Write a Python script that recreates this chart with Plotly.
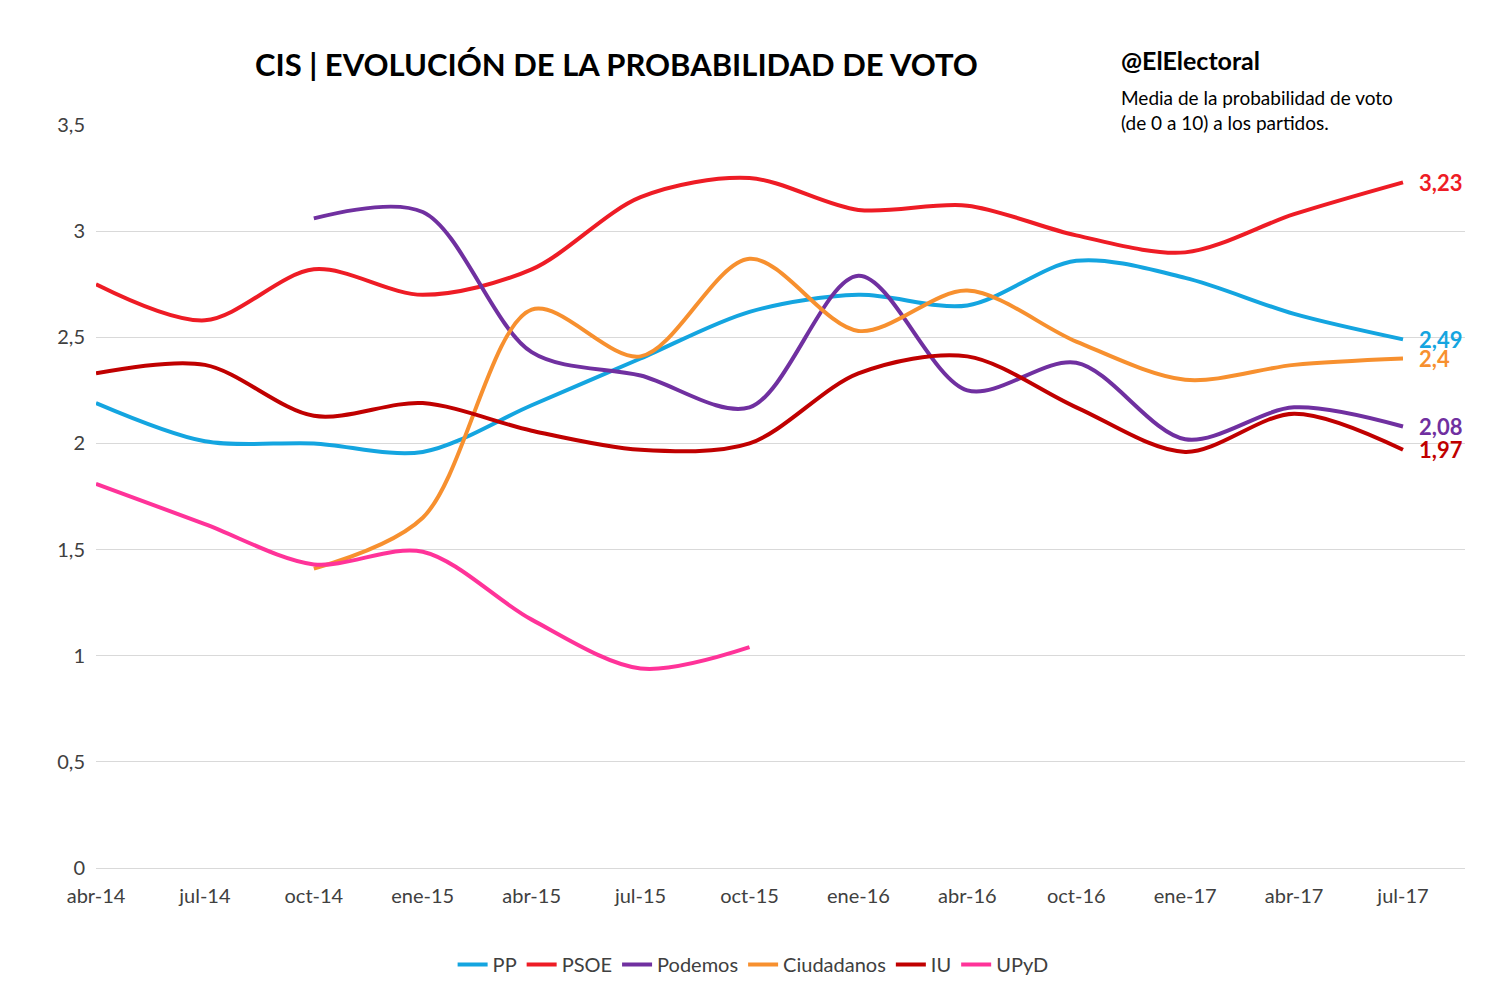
import plotly.graph_objects as go

meses = ["abr-14", "jul-14", "oct-14", "ene-15", "abr-15", "jul-15", "oct-15",
         "ene-16", "abr-16", "oct-16", "ene-17", "abr-17", "jul-17"]

pp = [2.19, 2.01, 2.00, 1.96, 2.18, 2.40, 2.62, 2.70, 2.65, 2.86, 2.78, 2.61, 2.49]
psoe = [2.75, 2.58, 2.82, 2.70, 2.82, 3.16, 3.25, 3.10, 3.12, 2.98, 2.90, 3.08, 3.23]
podemos = [None, None, 3.06, 3.09, 2.43, 2.32, 2.17, 2.79, 2.25, 2.38, 2.02, 2.17, 2.08]
ciudadanos = [None, None, 1.41, 1.65, 2.63, 2.41, 2.87, 2.53, 2.72, 2.48, 2.30, 2.37, 2.40]
iu = [2.33, 2.37, 2.13, 2.19, 2.06, 1.97, 2.00, 2.33, 2.41, 2.17, 1.96, 2.14, 1.97]
upyd = [1.81, 1.62, 1.43, 1.49, 1.17, 0.94, 1.04, None, None, None, None, None, None]

series = [
    ("PP", pp, "#14a5e0", "2,49"),
    ("PSOE", psoe, "#ee1c25", "3,23"),
    ("Podemos", podemos, "#7030a0", "2,08"),
    ("Ciudadanos", ciudadanos, "#f7902f", "2,4"),
    ("IU", iu, "#c00000", "1,97"),
    ("UPyD", upyd, "#ff3399", None),
]

fig = go.Figure()
for nombre, vals, color, etiqueta in series:
    fig.add_trace(go.Scatter(x=meses, y=vals, name=nombre, mode="lines",
                             line=dict(color=color, width=4, shape="spline", smoothing=0.9)))
    if etiqueta:
        fig.add_annotation(x=meses[-1], y=vals[-1], text="<b>" + etiqueta + "</b>",
                           showarrow=False, xanchor="left", xshift=14,
                           font=dict(color=color, size=22))

fig.add_annotation(xref="paper", yref="paper", x=0.38, y=1.11, showarrow=False,
                   text="<b>CIS | EVOLUCIÓN DE LA PROBABILIDAD DE VOTO</b>",
                   font=dict(size=31, color="black"))
fig.add_annotation(xref="paper", yref="paper", x=0.747, y=1.11, showarrow=False, xanchor="left",
                   text="<b>@ElElectoral</b>", font=dict(size=25, color="black"))
fig.add_annotation(xref="paper", yref="paper", x=0.747, y=1.02, showarrow=False, xanchor="left",
                   align="left", yanchor="middle",
                   text="Media de la probabilidad de voto<br>(de 0 a 10) a los partidos.",
                   font=dict(size=19, color="black"))

fig.update_layout(
    width=1500, height=1002, plot_bgcolor="white", paper_bgcolor="white",
    font=dict(family="Lato, Open Sans, sans-serif", size=20, color="#404040"),
    margin=dict(l=88, r=43, t=117, b=142),
    showlegend=True, separators=", ",
    legend=dict(orientation="h", x=0.48, xanchor="center", y=-0.13, yanchor="middle",
                font=dict(size=20, color="#404040")),
)
fig.update_xaxes(type="category", showgrid=False, showline=True, linecolor="#d9d9d9",
                 ticks="", ticklabelstandoff=10)
fig.update_yaxes(range=[0, 3.5], dtick=0.5, showgrid=True, gridcolor="#d9d9d9",
                 zeroline=False, tickformat=".1~f", ticklabelstandoff=10)

fig.write_html("out.html")
